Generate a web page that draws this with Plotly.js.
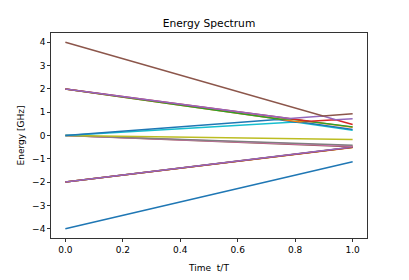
<!DOCTYPE html>
<html>
<head>
<meta charset="utf-8">
<script src="https://cdn.plot.ly/plotly-3.0.1.min.js"></script>
<style>
  html, body { margin: 0; padding: 0; background: #fff; }
  #chart { width: 409px; height: 280px; }
</style>
</head>
<body>
<div id="chart"></div>
<script>
// Energy levels (sorted eigenvalues), level 0 = lowest
const t0 = [0, 1];          const e0 = [-4, -1.13];
const t1 = [0, 1];          const e1 = [-2, -0.52];
const t2 = [0, 1];          const e2 = [-2, -0.50];
const t3 = [0, 1];          const e3 = [-2, -0.50];
const t4 = [0, 1];          const e4 = [-2, -0.49];
const t5 = [0, 1];          const e5 = [0, -0.48];
const t6 = [0, 1];          const e6 = [0, -0.45];
const t7 = [0, 1];          const e7 = [0, -0.42];
const t8 = [0, 1];          const e8 = [0, -0.17];
const t9 = [0, 0.8, 1];     const e9 = [0, 0.58, 0.22];
const t10 = [0, 0.738, 0.8, 0.813, 1];            const e10 = [0, 0.686, 0.576, 0.585, 0.26];
const t11 = [0, 0.738, 0.749, 0.813, 0.844, 1];   const e11 = [2, 0.686, 0.697, 0.585, 0.608, 0.35];
const t12 = [0, 0.749, 0.775, 0.844, 0.851, 1];   const e12 = [2, 0.697, 0.721, 0.608, 0.613, 0.37];
const t13 = [0, 0.775, 0.781, 0.851, 0.941, 1];   const e13 = [2, 0.721, 0.727, 0.613, 0.678, 0.47];
const t14 = [0, 0.781, 0.897, 0.941, 1];          const e14 = [2, 0.727, 0.834, 0.678, 0.72];
const t15 = [0, 0.897, 1];  const e15 = [4, 0.834, 0.93];

const xTickVals = [0, 0.2, 0.4, 0.6, 0.8, 1.0];
const yTickVals = [-4, -3, -2, -1, 0, 1, 2, 3, 4];

const levelsT = [t0,t1,t2,t3,t4,t5,t6,t7,t8,t9,t10,t11,t12,t13,t14,t15];
const levelsE = [e0,e1,e2,e3,e4,e5,e6,e7,e8,e9,e10,e11,e12,e13,e14,e15];

const palette = ['#1f77b4','#ff7f0e','#2ca02c','#d62728','#9467bd',
                 '#8c564b','#e377c2','#7f7f7f','#bcbd22','#17becf'];

const traces = levelsT.map((tt, i) => ({
  x: tt, y: levelsE[i], type: 'scatter', mode: 'lines',
  line: {color: palette[i % 10], width: 1.5},
  hoverinfo: 'skip', showlegend: false
}));

const font = {family: 'DejaVu Sans, sans-serif', size: 9, color: '#000'};

const layout = {
  width: 409, height: 280,
  margin: {l: 51, r: 42, t: 33, b: 41.5, pad: 0},
  paper_bgcolor: '#fff', plot_bgcolor: '#fff',
  font: font,
  title: {text: 'Energy Spectrum', font: {family: 'DejaVu Sans, sans-serif', size: 10.7, color: '#000'},
          x: 0.5, xref: 'paper', xanchor: 'center', y: 0.918, yref: 'container', yanchor: 'middle'},
  xaxis: {
    range: [-0.05, 1.05], tickvals: xTickVals, tickformat: '.1f',
    ticks: 'outside', ticklen: 3, tickwidth: 0.8, tickcolor: '#000',
    showline: true, linecolor: '#000', linewidth: 0.8, mirror: true,
    showgrid: false, zeroline: false, tickfont: font,
    title: {text: 'Time  t/T', font: font, standoff: 11}
  },
  yaxis: {
    range: [-4.4, 4.4], tickvals: yTickVals,
    ticks: 'outside', ticklen: 3, tickwidth: 0.8, tickcolor: '#000',
    showline: true, linecolor: '#000', linewidth: 0.8, mirror: true,
    showgrid: false, zeroline: false, tickfont: font,
    title: {text: 'Energy [GHz]', font: font, standoff: 5}
  }
};

Plotly.newPlot('chart', traces, layout, {displayModeBar: false, staticPlot: true});
</script>
</body>
</html>
